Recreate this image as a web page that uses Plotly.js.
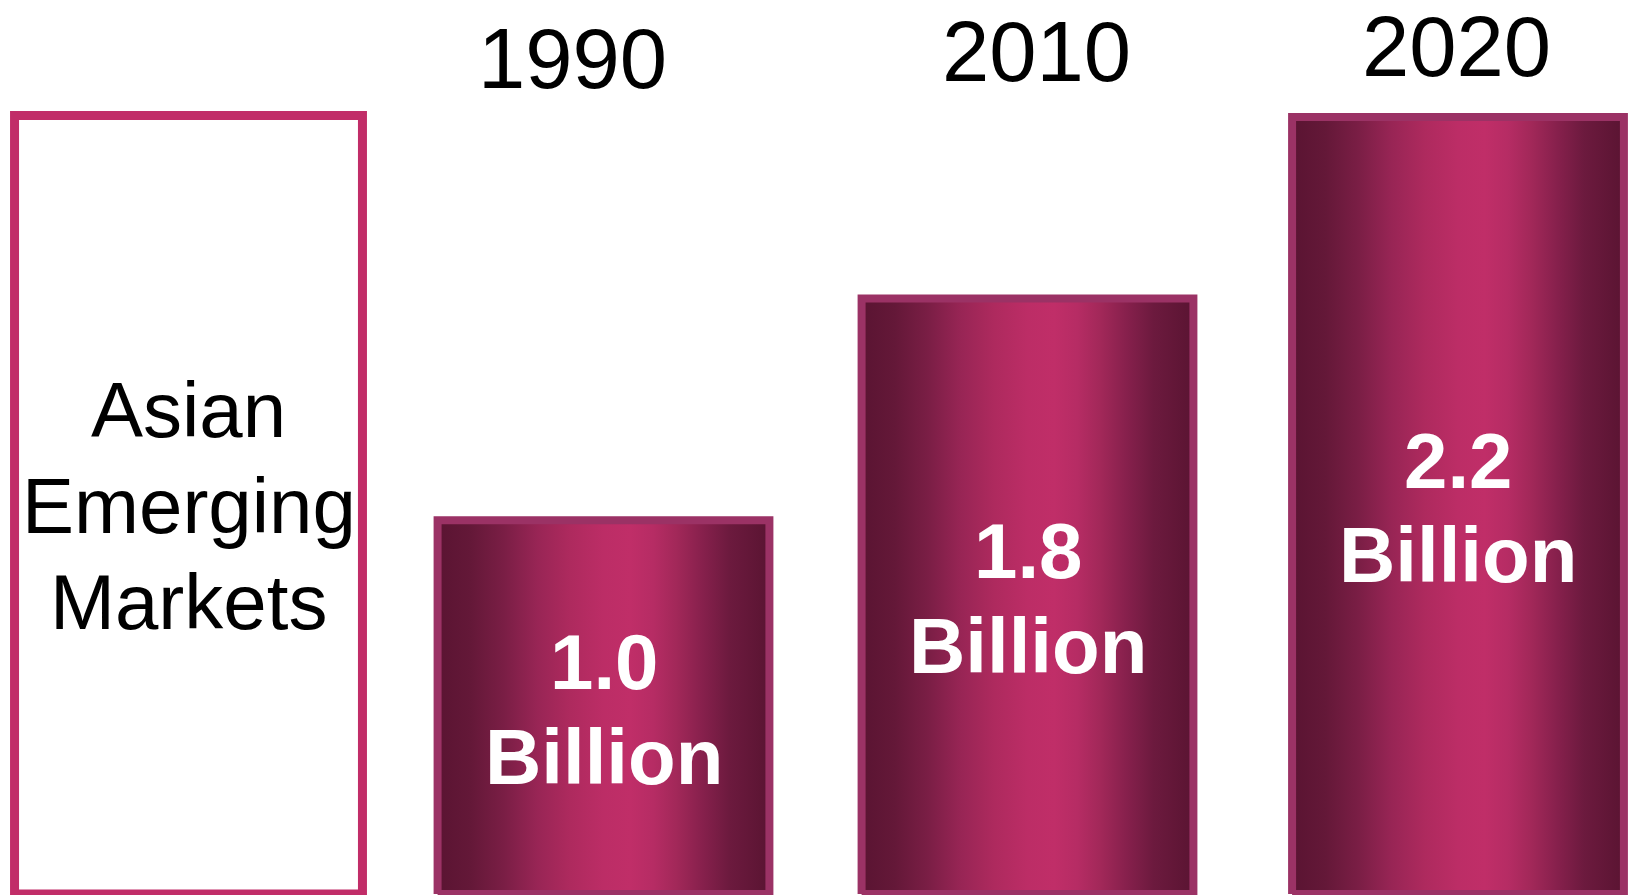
<!DOCTYPE html>
<html>
<head>
<meta charset="utf-8">
<script src="https://cdn.plot.ly/plotly-3.0.1.min.js"></script>
<style>
  html, body { margin: 0; padding: 0; background: #ffffff; }
  #chart { width: 1628px; height: 895px; }
</style>
</head>
<body>
<div id="chart"></div>
<script>
// ---- data ----
const panelLabelLines = ['Asian', 'Emerging', 'Markets'];
const years = ['1990', '2010', '2020'];
const populationBillions = [1.0, 1.8, 2.2];
// heights of the columns as drawn, relative to the label panel (panel = 1.0)
const panelHeight = 1.0;
const drawnHeight = [0.48, 0.765, 0.998];
const unitLabel = 'Billion';

// ---- styles / layout ----
const FONT = 'Arial, "Liberation Sans", sans-serif';
const panelBorder = '#c12d68';
const barBorder = '#9b3265';
const gradient = [
  [0.00, '#5a1432'],
  [0.10, '#641838'],
  [0.20, '#7a1e45'],
  [0.30, '#982555'],
  [0.40, '#ae2a5e'],
  [0.50, '#bc2d66'],
  [0.58, '#c02e68'],
  [0.65, '#b62c64'],
  [0.72, '#a22859'],
  [0.80, '#86204c'],
  [0.88, '#6c1a3e'],
  [1.00, '#5a1432']
];
const panelWidth = 0.822;
const barWidth = 0.784;
const pxPerX = 423.25, x0px = 184.5;
const pxPerY = 778.5, y0px = 894;
// small horizontal nudges (pixels) for panel and each column
const panelShiftPx = 4;
const colShiftPx = [-4.25, -3.5, 3.75];

const traces = [];

// label panel (white box with pink outline)
traces.push({
  type: 'bar',
  x: [0],
  y: [panelHeight],
  width: [panelWidth],
  offset: [-panelWidth / 2 + panelShiftPx / pxPerX],
  marker: { color: '#ffffff', line: { color: panelBorder, width: 9 } },
  hoverinfo: 'skip'
});

// gradient columns, one trace each so every column gets its own gradient box
drawnHeight.forEach((h, i) => {
  const cx = i + 1 + colShiftPx[i] / pxPerX;
  const l = cx - barWidth / 2, r = cx + barWidth / 2;
  traces.push({
    type: 'scatter',
    mode: 'lines',
    x: [l, r, r, l, l],
    y: [0, 0, h, h, 0],
    fill: 'toself',
    fillgradient: { type: 'horizontal', colorscale: gradient },
    line: { color: barBorder, width: 8 },
    hoverinfo: 'skip'
  });
});

const annotations = [];

// panel text, one annotation per line
panelLabelLines.forEach((t, k) => {
  annotations.push({
    x: 0, xref: 'x', y: panelHeight / 2, yref: 'y',
    text: t, showarrow: false, xanchor: 'center', yanchor: 'middle',
    xshift: panelShiftPx,
    yshift: -((k - 1) * 96 + 1),
    font: { family: FONT, size: 78, color: '#000000' }
  });
});

// value text inside columns
populationBillions.forEach((v, i) => {
  const lines = [v.toFixed(1), unitLabel];
  lines.forEach((t, k) => {
    annotations.push({
      x: i + 1, xref: 'x', y: drawnHeight[i] / 2, yref: 'y',
      text: '<b>' + t + '</b>', showarrow: false, xanchor: 'center', yanchor: 'middle',
      xshift: colShiftPx[i],
      yshift: -((k - 0.5) * 94.5 + 2.5),
      font: { family: FONT, size: 78, color: '#ffffff' }
    });
  });
});

// year labels above columns
const yearXShift = [-35, 5, 2];
const yearYPx = [59, 51.5, 46];
years.forEach((yr, i) => {
  annotations.push({
    x: i + 1, xref: 'x', y: 1 - yearYPx[i] / 895, yref: 'paper',
    text: yr, showarrow: false, xanchor: 'center', yanchor: 'middle',
    xshift: yearXShift[i],
    font: { family: FONT, size: 85, color: '#000000' }
  });
});

const layout = {
  width: 1628,
  height: 895,
  margin: { l: 0, r: 0, t: 0, b: 0, pad: 0 },
  paper_bgcolor: '#ffffff',
  plot_bgcolor: '#ffffff',
  showlegend: false,
  xaxis: {
    range: [-x0px / pxPerX, (1628 - x0px) / pxPerX],
    visible: false, showgrid: false, zeroline: false, fixedrange: true
  },
  yaxis: {
    range: [-(895 - y0px) / pxPerY, y0px / pxPerY],
    visible: false, showgrid: false, zeroline: false, fixedrange: true
  },
  annotations: annotations
};

Plotly.newPlot('chart', traces, layout, { displayModeBar: false, staticPlot: true });
</script>
</body>
</html>
